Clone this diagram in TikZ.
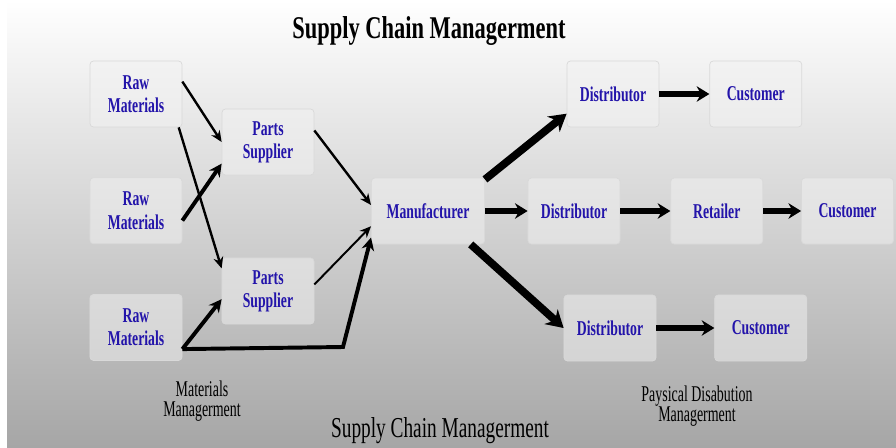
\documentclass[tikz,border=0pt]{standalone}
\usepackage{fontspec}
\newfontfamily\boxfont[FakeStretch=0.65]{Liberation Serif}
\newfontfamily\titlefont[FakeStretch=0.71]{Liberation Serif}
\newfontfamily\notefont[FakeStretch=0.62]{Liberation Serif}
\newfontfamily\captfont[FakeStretch=0.67]{Liberation Serif}
\usetikzlibrary{positioning, arrows.meta}
\definecolor{boxblue}{RGB}{35,20,170}

\begin{document}
\begin{tikzpicture}[
        x=0.025cm, y=-0.025cm,
        node distance=1.25cm,
        box/.style={rectangle, rounded corners=2.5pt, draw=gray!30, line width=0.5pt,
            fill=gray!10, fill opacity=0.5, text opacity=1,
            minimum width=2.3cm, minimum height=1.65cm, align=center, text=boxblue,
            font=\boxfont\bfseries\fontsize{15}{16.5}\selectfont},
        note/.style={align=center, inner sep=0pt, font=\notefont\fontsize{16}{14.5}\selectfont},
        flow/.style={draw, line width=1.7pt, -{Stealth[length=8pt, width=7pt]}},
        flowb/.style={draw, line width=2.8pt, -{Stealth[length=9pt, width=9pt]}},
        flowc/.style={draw, line width=3.6pt, -{Stealth[length=9pt, width=11pt]}},
        flowheavy/.style={draw, line width=5.5pt, -{Stealth[length=12pt, width=14pt]}}
    ]

    \useasboundingbox (0,0) rectangle (896,448);

    % Background
    \fill[white] (0,0) rectangle (896,448);
    \shade[top color=white, middle color=gray!28, bottom color=gray!70] (7,0) rectangle (896,448);

    % Title
    \node[anchor=base, font=\titlefont\bfseries\fontsize{22.5}{26}\selectfont] (title) at (429,38) {Supply Chain Managerment};

    % Materials side
    \node[box] (raw1) at (136,94) {Raw\\Materials};
    \node[box] (raw2) [below=of raw1] {Raw\\Materials};
    \node[box] (raw3) [below=of raw2] {Raw\\Materials};
    \node[box] (parts1) at (268,142) {Parts\\Supplier};
    \node[box] (parts2) at (268,291) {Parts\\Supplier};
    \node[box, minimum width=2.83cm] (manuf) at (428,211) {Manufacturer};

    % Distribution side
    \node[box] (dist1) at (613,94) {Distributor};
    \node[box] (cust1) [right=of dist1] {Customer};
    \node[box] (dist2) at (574,211) {Distributor};
    \node[box] (retail) [right=of dist2] {Retailer};
    \node[box] (cust2) [right=0.95cm of retail] {Customer};
    \node[box] (dist3) at (610,328) {Distributor};
    \node[box] (cust3) [right=1.45cm of dist3] {Customer};

    % Connections
    \coordinate (bend) at (343,347);
    \draw[flow] (raw1.15) -- (parts1.west);
    \draw[flow] (raw1.-38) -- (parts2.154);
    \draw[flowb] (raw2.-12) -- (parts1.205);
    \draw[flowb] (raw3.-25) -- (parts2.190);
    \draw[flowb] (raw3.-25) -- (bend) -- (manuf.205);
    \draw[flow] (parts1.14) -- (manuf.174);
    \draw[flow, line width=1.4pt] (parts2.8) -- (manuf.195);
    \draw[flowheavy] (manuf.29) -- (dist1.203);
    \draw[flowc] (manuf.east) -- (dist2.west);
    \draw[flowheavy] (manuf.-38) -- (dist3.west);
    \foreach \a/\b in {dist1/cust1, dist2/retail, retail/cust2, dist3/cust3}
        \draw[flowc] (\a) -- (\b);

    % Labels
    \node[note] (matnote) at (202,401) {Materials\\Managerment};
    \node[note] (distnote) at (697,406) {Paysical Disabution\\Managerment};
    \node[anchor=base, font=\captfont\fontsize{20.5}{24}\selectfont] (caption) at (440,437) {Supply Chain Managerment};

\end{tikzpicture}
\end{document}
